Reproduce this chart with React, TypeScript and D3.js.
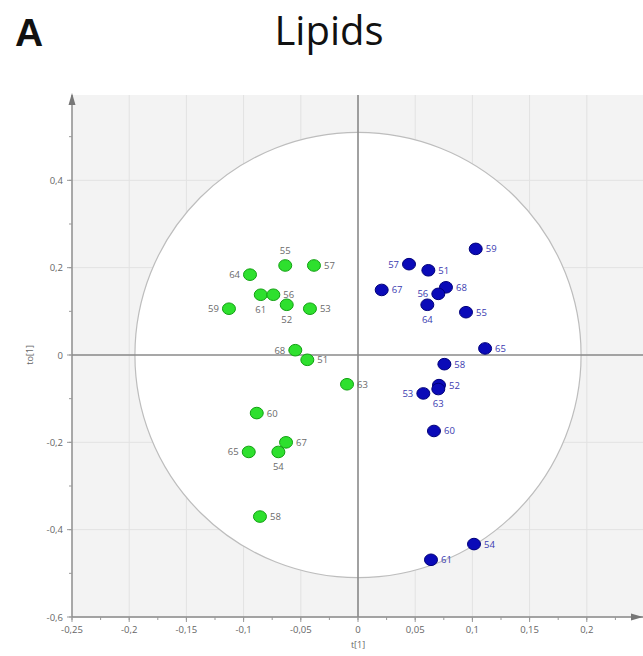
import * as d3 from 'd3';

// group 1 (green) – id, t[1], to[1]
const greenIds = ['55', '57', '64', '61', '56', '52', '53', '59', '68', '51', '63', '60', '67', '54', '65', '58'];
const greenT = [-0.0636, -0.0385, -0.0944, -0.085, -0.074, -0.0623, -0.042, -0.1128, -0.0548, -0.0443, -0.0096, -0.0885, -0.0629, -0.0696, -0.0955, -0.0857];
const greenTo = [0.205, 0.205, 0.184, 0.138, 0.138, 0.115, 0.106, 0.106, 0.011, -0.011, -0.067, -0.133, -0.2, -0.222, -0.222, -0.37];

// group 2 (blue)
const blueIds = ['59', '57', '51', '67', '68', '56', '64', '55', '65', '58', '52', '63', '53', '60', '54', '61'];
const blueT = [0.1029, 0.0446, 0.0615, 0.0207, 0.0769, 0.0702, 0.0606, 0.0944, 0.1111, 0.0755, 0.0708, 0.0702, 0.0571, 0.0664, 0.1014, 0.0638];
const blueTo = [0.243, 0.208, 0.194, 0.149, 0.155, 0.14, 0.115, 0.098, 0.015, -0.021, -0.069, -0.078, -0.088, -0.174, -0.433, -0.469];

// where the id label sits relative to the dot
const greenSide = ['t', 'r', 'l', 'b', 'r', 'b', 'r', 'l', 'l', 'r', 'r', 'r', 'r', 'b', 'l', 'r'];
const blueSide = ['r', 'l', 'r', 'r', 'r', 'l', 'b', 'r', 'r', 'r', 'r', 'b', 'l', 'r', 'r', 'r'];

const xTicks = [-0.25, -0.2, -0.15, -0.1, -0.05, 0, 0.05, 0.1, 0.15, 0.2];
const yTicks = [-0.6, -0.4, -0.2, 0, 0.2, 0.4];
const ellipseR = [0.195, 0.51];

const fmt = (v: number) => (Math.abs(v) < 1e-9 ? '0' : String(+v.toFixed(2)).replace('.', ','));

const W = 643;
const H = 656;
const left = 72;
const top = 95;
const bottom = 617;

const App = () => {
  const x = d3.scaleLinear().domain([-0.25, 0]).range([left, 358]);
  const y = d3.scaleLinear().domain([-0.6, 0]).range([bottom, 355]);
  const yMax = y.invert(top);
  const xMax = x.invert(W);

  const minorX = d3.range(-0.25, xMax, 0.025);
  const minorY = d3.range(-0.6, yMax, 0.1);

  const green = greenIds.map((id, i) => ({ id, t: greenT[i], to: greenTo[i], side: greenSide[i] }));
  const blue = blueIds.map((id, i) => ({ id, t: blueT[i], to: blueTo[i], side: blueSide[i] }));

  const label = (d: { t: number; to: number; side: string; id: string }, color: string) => {
    const cx = x(d.t);
    const cy = y(d.to);
    let tx = cx + 10;
    let ty = cy + 3.5;
    let anchor = 'start';
    if (d.side === 'l') {
      tx = cx - 10;
      anchor = 'end';
    } else if (d.side === 't') {
      tx = cx;
      ty = cy - 11;
      anchor = 'middle';
    } else if (d.side === 'b') {
      tx = cx;
      ty = cy + 18;
      anchor = 'middle';
    }
    return (
      <text key={'l' + d.id + color} x={tx} y={ty} textAnchor={anchor} fill={color} fontSize={9.5}>
        {d.id}
      </text>
    );
  };

  return (
    <svg width={W} height={H} style={{ position: 'absolute', left: 0, top: 0, background: '#fff' }} fontFamily="'Open Sans', 'DejaVu Sans', sans-serif">
      <text x={15} y={46} fontSize={39} fontWeight="bold" fill="#111" fontFamily="'Liberation Sans', Arial, sans-serif">
        A
      </text>
      <text x={329} y={45} fontSize={40} fill="#111" textAnchor="middle">
        Lipids
      </text>

      <rect x={left} y={top} width={W - left} height={bottom - top} fill="#f3f3f3" />
      {xTicks.map((v) => (
        <line key={'gx' + v} x1={x(v)} x2={x(v)} y1={top} y2={bottom} stroke="#e2e2e2" />
      ))}
      {yTicks.map((v) => (
        <line key={'gy' + v} x1={left} x2={W} y1={y(v)} y2={y(v)} stroke="#e2e2e2" />
      ))}

      <ellipse
        cx={x(0)}
        cy={y(0)}
        rx={x(ellipseR[0]) - x(0)}
        ry={y(0) - y(ellipseR[1])}
        fill="#fff"
        stroke="#bdbdbd"
        strokeWidth={1.2}
      />

      <line x1={x(0)} x2={x(0)} y1={top} y2={bottom} stroke="#8a8a8a" strokeWidth={1.6} />
      <line x1={left} x2={W} y1={y(0)} y2={y(0)} stroke="#8a8a8a" strokeWidth={1.6} />

      {/* axes */}
      <line x1={left} x2={left} y1={top} y2={bottom} stroke="#8a8a8a" strokeWidth={1.4} />
      <line x1={left} x2={W} y1={bottom} y2={bottom} stroke="#8a8a8a" strokeWidth={1.4} />
      <path d={`M${left - 3.5},${top + 10} L${left},${top - 2} L${left + 3.5},${top + 10} Z`} fill="#777" />
      <path d={`M${W - 12},${bottom - 3.5} L${W},${bottom} L${W - 12},${bottom + 3.5} Z`} fill="#777" />

      {minorX.map((v) => (
        <line key={'mx' + v} x1={x(v)} x2={x(v)} y1={bottom} y2={bottom + 3} stroke="#999" />
      ))}
      {minorY.map((v) => (
        <line key={'my' + v} x1={left - 3} x2={left} y1={y(v)} y2={y(v)} stroke="#999" />
      ))}
      {xTicks.map((v) => (
        <g key={'tx' + v}>
          <line x1={x(v)} x2={x(v)} y1={bottom} y2={bottom + 5} stroke="#999" />
          <text x={x(v)} y={bottom + 16} textAnchor="middle" fontSize={9.5} fill="#666">
            {fmt(v)}
          </text>
        </g>
      ))}
      {yTicks.map((v) => (
        <g key={'ty' + v}>
          <line x1={left - 5} x2={left} y1={y(v)} y2={y(v)} stroke="#999" />
          <text x={left - 9} y={y(v) + 3.5} textAnchor="end" fontSize={9.5} fill="#666">
            {fmt(v)}
          </text>
        </g>
      ))}
      <text x={x(0)} y={bottom + 31} textAnchor="middle" fontSize={9} fill="#666">
        t[1]
      </text>
      <text transform={`translate(33,${y(0)}) rotate(-90)`} textAnchor="middle" fontSize={9} fill="#666">
        to[1]
      </text>

      {green.map((d) => (
        <ellipse key={'g' + d.id} cx={x(d.t)} cy={y(d.to)} rx={6.5} ry={5.8} fill="#2ee02e" stroke="#10a010" strokeWidth={1} />
      ))}
      {blue.map((d) => (
        <ellipse key={'b' + d.id} cx={x(d.t)} cy={y(d.to)} rx={6.5} ry={5.8} fill="#0a0ab8" stroke="#00007a" strokeWidth={1} />
      ))}
      {green.map((d) => label(d, '#6a6a6a'))}
      {blue.map((d) => label(d, '#3a3ab0'))}
    </svg>
  );
};

export default App;
